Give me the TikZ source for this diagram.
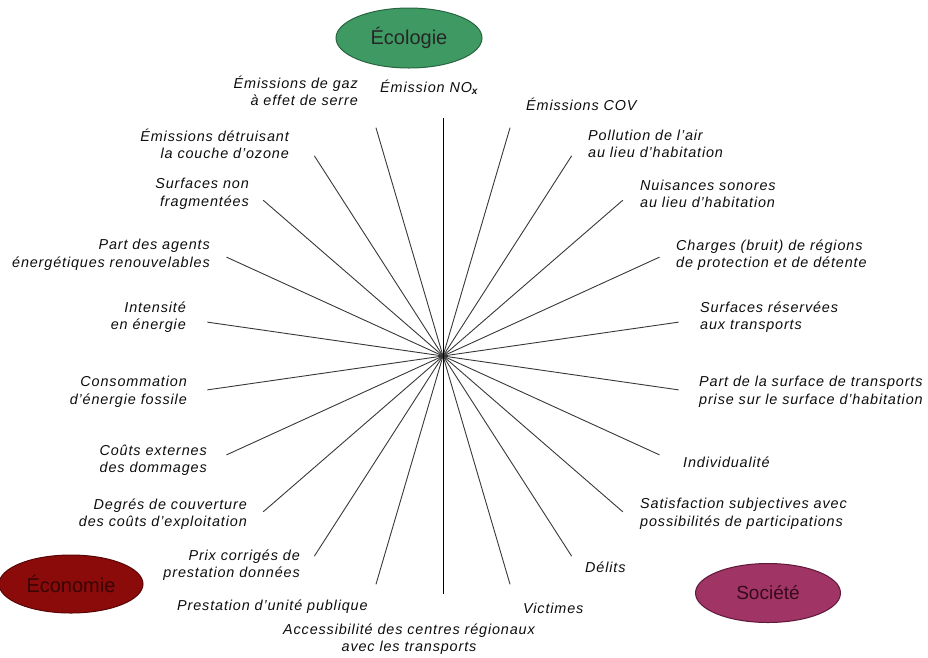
\documentclass[tikz,border=0pt]{standalone}
\usepackage{fontspec}
\setmainfont{Liberation Sans}
\newfontfamily\lblfont{Liberation Sans}[LetterSpace=6]
\usetikzlibrary{shapes.geometric}
\definecolor{ecogreen}{RGB}{62,154,98}
\definecolor{ecogreenD}{RGB}{40,100,64}
\definecolor{ecored}{RGB}{139,10,10}
\definecolor{ecoredD}{RGB}{90,5,5}
\definecolor{ecoredT}{RGB}{55,5,5}
\definecolor{socpink}{RGB}{160,52,100}
\definecolor{socpinkD}{RGB}{95,25,58}
\definecolor{socpinkT}{RGB}{55,10,30}
\begin{document}
\begin{tikzpicture}[x=1pt,y=-1pt,
  lbl/.style={font=\lblfont\itshape\fontsize{14.4}{17.5}\selectfont, inner sep=0pt, text=black!95},
  lblL/.style={lbl, anchor=west, align=left},
  lblR/.style={lbl, anchor=east, align=right},
  bubble/.style={ellipse, draw, line width=1pt, minimum width=146pt, minimum height=60pt, inner sep=0pt, font=\fontsize{20}{24}\selectfont},
  ray/.style={line width=0.9pt, draw=black!78}]
\useasboundingbox (0,0) rectangle (928,657);
\coordinate (c) at (443,356);
\foreach \k in {0,...,21} { \path (c) ++({90+\k*360/22}:238pt) coordinate (r\k); }
\foreach \k in {1,...,10,12,13,...,21} { \draw[ray] (c) -- (r\k); }
\draw[line width=0.9pt, black] (r0) -- (r11);

\node[bubble, fill=ecogreen, draw=ecogreenD, text=black!85] (eco) at (409,38) {Écologie};
\node[bubble, fill=ecored, draw=ecoredD, text=ecoredT, minimum width=144pt, minimum height=58pt] (econ) at (71,584) {Économie};
\node[bubble, fill=socpink, draw=socpinkD, text=socpinkT, minimum width=145pt, minimum height=59pt, font=\fontsize{19}{23}\selectfont] (soc) at (768,593) {Société};

\node[lblR] (l1) at (358,91) {Émissions de gaz\\à effet de serre};
\node[lblL] (l2) at (380,87) {Émission NO\textsubscript{\bfseries x}};
\node[lblL] (l3) at (526,104) {Émissions COV};
\node[lblL] (l4) at (588,144) {Pollution de l’air\\au lieu d’habitation};
\node[lblR] (l5) at (289,144) {Émissions détruisant\\la couche d’ozone};
\node[lblL] (l6) at (640,194) {Nuisances sonores\\au lieu d’habitation};
\node[lblR] (l7) at (249,194) {Surfaces non\\fragmentées};
\node[lblR] (l8) at (210,255) {Part des agents\\énergétiques renouvelables};
\node[lblL] (l9) at (676,255) {Charges (bruit) de régions\\de protection et de détente};
\node[lblR] (l10) at (186,317) {Intensité\\en énergie};
\node[lblL] (l11) at (700,317) {Surfaces réservées\\aux transports};
\node[lblR] (l12) at (187,392) {Consommation\\d’énergie fossile};
\node[lblL] (l13) at (699,392) {Part de la surface de transports\\prise sur le surface d’habitation};
\node[lblR] (l14) at (207,460) {Coûts externes\\des dommages};
\node[lblL] (l15) at (683,462) {Individualité};
\node[lblR] (l16) at (247,514) {Degrés de couverture\\des coûts d’exploitation};
\node[lblL] (l17) at (640,514) {Satisfaction subjectives avec\\possibilités de participations};
\node[lblR] (l18) at (300,565) {Prix corrigés de\\prestation données};
\node[lblL] (l19) at (585,567) {Délits};
\node[lblL] (l20) at (177,607) {Prestation d’unité publique};
\node[lblL] (l21) at (523,608) {Victimes};
\node[lbl, align=center] (l22) at (409,639) {Accessibilité des centres régionaux\\avec les transports};
\end{tikzpicture}
\end{document}
